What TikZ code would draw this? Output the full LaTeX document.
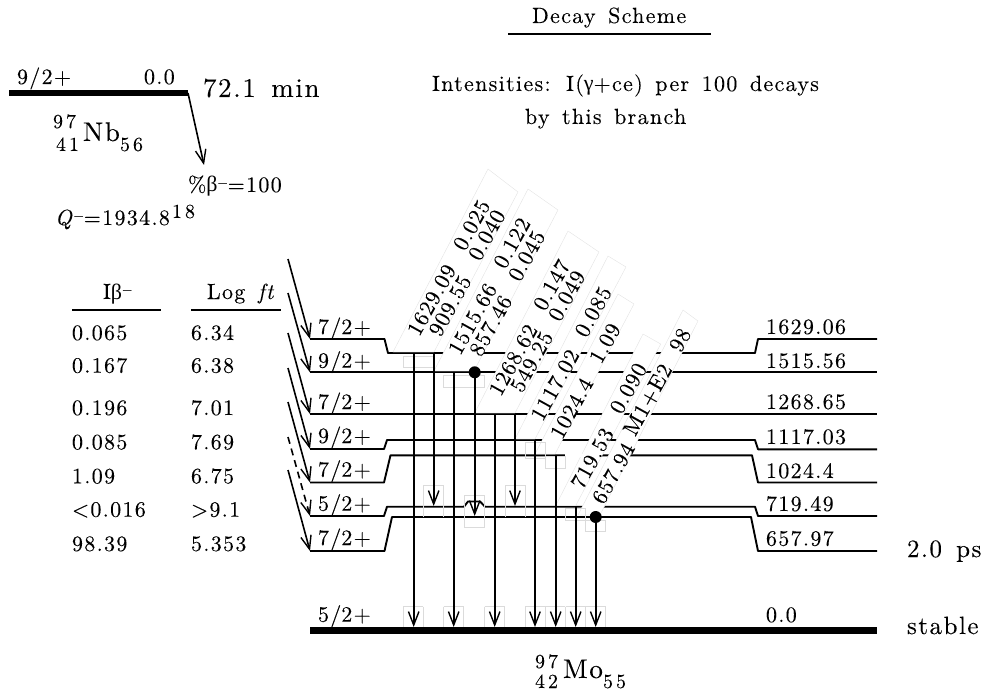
\documentclass[tikz,border=0pt]{standalone}
\usepackage{fontspec}
\setmainfont{lmroman10-regular.otf}[ItalicFont=lmroman10-italic.otf,LetterSpace=6,WordSpace=1.45,FakeBold=0.12]
\newfontfamily\grk{Liberation Serif}
\newfontfamily\tiltfont{lmroman10-regular.otf}[LetterSpace=4,FakeBold=0.12]
\newfontfamily\widefont{lmroman10-regular.otf}[LetterSpace=15,FakeBold=0.12]
\usetikzlibrary{arrows.meta}
\newcommand{\sz}[1]{\fontsize{#1}{#1}\selectfont}
\newcommand{\supminus}{\raisebox{.55ex}{\sz{13}−}}
\tikzset{
  lbl/.style={anchor=base west,inner sep=0pt,outer sep=0pt,font=\sz{22}},
  big/.style={lbl,font=\sz{27}},
  small/.style={lbl,font=\widefont\sz{20}},
  tilt/.style={anchor=center,inner sep=0pt,rotate=61,font=\tiltfont\sz{22}},
  level/.style={line width=1.9pt,line join=round},
  thick level/.style={line width=6.5pt},
  rule/.style={line width=1.8pt},
  gam/.style={line width=1.6pt,-{Straight Barb[length=13.5pt,width=10.5pt,line width=1.4pt]}},
  bet/.style={gam},
  band/.style={fill=white,draw=gray!22,line width=.4pt},
  faint/.style={draw=gray!28,line width=.6pt},
  dot/.style={circle,fill=black,inner sep=0pt,minimum size=12pt},
}
\begin{document}
\begin{tikzpicture}[x=1pt,y=-1pt]
\useasboundingbox (0,0) rectangle (991,695);
% levels
\draw[level] (310,339) -- (384.5,339) -- (388,353) -- (755,353) -- (758,339) -- (877,339);
\draw[level] (310,372.3) -- (877,372.3);
\draw[level] (310,414) -- (877,414);
\draw[level] (310,449) -- (384,449) -- (387,440) -- (755,440) -- (758,449.3) -- (877,449.3);
\draw[level] (310,482.5) -- (384,482.5) -- (390.5,455.3) -- (752,455.3) -- (758,482.5) -- (877,482.5);
\draw[level] (310,516) -- (384,516) -- (387,506.7) -- (464,506.7) -- (468,501.5) -- (480,501.5) -- (485,506.7) -- (755,506.7) -- (758,516) -- (877,516);
\draw[level] (310,551) -- (384.5,551) -- (392,517) -- (751,517) -- (758,551) -- (877,551);
\draw[thick level] (310,630.3) -- (877,630.3);
\draw[thick level] (9,93) -- (188,93);
% white label bands
\foreach \bx/\brx/\by/\tlx/\tly/\trx/\try in {
  393/434/352/488/169/518/192,
  434/474/371/528/189/558/210,
  474.7/515/413/568/231/599/252,
  515/535/439/608/256/626/267,
  535/555/454/618/294/634/304,
  555.7/575.7/505.7/643/334/660.7/344,
  578/600/515/683/310/698/321}
{
  \path[band] (\bx,\by) -- (\tlx,\tly) -- (\trx,\try) -- (\brx,\by) -- cycle;
}
\fill[white] (565,453.5) rectangle (585,457);
% faint boxes
\foreach \x in {413.3,453.7,494.7,535,555.3,575.7,595.7}
  \draw[faint] (\x-10,606.7) -- (\x-10,627) (\x+10,606.7) -- (\x+10,627) (\x-10,606.7) -- (\x+10,606.7);
\draw[faint] (403,356) rectangle (433,367.5);
\draw[faint] (443.7,375) rectangle (484.3,387);
\draw[faint] (423.5,485) -- (423.5,517) (443.7,485) -- (443.7,517) (423.5,485) -- (443.7,485);
\draw[faint] (505,485) -- (505,517) (525.2,485) -- (525.2,517) (505,485) -- (525.2,485);
\draw[faint] (464.3,495) rectangle (484.4,527);
\draw[faint] (525,442) rectangle (545,458);
\draw[faint] (545.3,456.5) rectangle (565.3,468);
\draw[faint] (565.7,508) rectangle (585.7,520);
\draw[faint] (585.7,520) rectangle (605.7,531);
% gamma transitions
\foreach \n/\x/\ya/\yb in {a/413.7/353/627,b/433.7/353/506,c/453.7/372.3/627,d/474.7/372.3/516,e/494.7/414/627,f/515/414/506,g/535/440/627,h/555.7/455.3/627,i/575.7/506.7/627,j/595.7/517/627}
{
  \coordinate (s\n) at (\x,\ya);
  \coordinate (t\n) at (\x,\yb);
  \draw[gam] (s\n) -- (t\n);
}
\node[dot] (dotd) at (sd) {};
\node[dot] (dotj) at (sj) {};
% beta feeding arrows
\foreach \n/\ya/\yb in {1/259/339,2/293/372.3,3/333/414,4/368/449,5/402/482.5,7/470/551}
{
  \coordinate (ba\n) at (288,\ya);
  \coordinate (bb\n) at (310,\yb);
  \draw[bet] (ba\n) -- (bb\n);
}
\coordinate (ba6) at (288,437);
\coordinate (bb6) at (310,516);
\draw[bet,dashed,dash pattern=on 7pt off 5pt] (ba6) -- (bb6);
% parent arrow
\coordinate (pa) at (188,93);
\coordinate (pb) at (204,165);
\draw[bet] (pa) -- (pb);
% rules
\draw[rule] (508,34) -- (711,34);
\draw[rule] (72,310) -- (161,310);
\draw[rule] (191,310) -- (281,310);
% title texts
\node[lbl] (title) at (532,23) {Decay Scheme};
\node[lbl] (inten) at (432,91) {Intensities: I({\grk γ}+ce) per 100 decays};
\node[lbl] (branch) at (525,124) {by this branch};
% parent
\node[lbl] (pspin) at (17,84) {9/2+};
\node[lbl] (pen) at (144,84) {0.0};
\node[big] (phl) at (203,97) {72.1 min};
\node[small] (pa1) at (53,128) {97};
\node[small] (pz1) at (56,151) {41};
\node[big] (pel) at (83,141) {Nb};
\node[small] (pn1) at (120,151) {56};
\node[lbl] (pbr) at (188,192) {\%{\grk β}\supminus=100};
\node[lbl] (pq) at (55,225) {\textit{Q}\supminus=1934.8};
\node[small] (pqe) at (172,218) {18};
% table
\node[lbl] (hib) at (103,299) {I{\grk β}\supminus};
\node[lbl] (hlf) at (207,299) {Log \textit{ft}};
\foreach \n/\y/\ib/\lf in {1/340/0.065/6.34,2/372.7/0.167/6.38,3/415/0.196/7.01,4/449.3/0.085/7.69,5/483.3/1.09/6.75,6/516.7/<0.016/>9.1,7/551/98.39/5.353}
{
  \node[lbl] (ib\n) at (72,\y) {\ib};
  \node[lbl] (lf\n) at (191,\y) {\lf};
}
% spins
\foreach \n/\y/\s in {1/334/7\slash 2+,2/367.7/9\slash 2+,3/409/7\slash 2+,4/443/9\slash 2+,5/476.7/7\slash 2+,6/510.7/5\slash 2+,7/545/7\slash 2+,8/621.7/5\slash 2+}
  \node[lbl] (sp\n) at (318,\y) {\s};
% energies
\foreach \n/\y/\e in {1/334/1629.06,2/368/1515.56,3/409/1268.65,4/444/1117.03,5/478/1024.4,6/511/719.49,7/545.7/657.97,8/622/0.0}
  \node[lbl] (en\n) at (766,\y) {\e};
\node[big,font=\sz{25}] (hl1) at (907,557) {2.0 ps};
\node[big,font=\sz{25}] (hl2) at (907,634) {stable};
% daughter
\node[small] (da1) at (535,668) {97};
\node[small] (dz1) at (535,688) {42};
\node[big] (del) at (563,678) {Mo};
\node[small] (dn1) at (603,688) {55};
% gamma labels
\foreach \n/\x/\y/\t in {
  a/431.7/300/1629.09, b/471.7/225/0.025,
  c/450/305.7/909.55, d/486.7/235/0.040,
  e/472.7/319/1515.66, f/512/243/0.122,
  g/490.7/325.7/857.46, h/526.7/255.7/0.045,
  i/513.3/360/1268.62, j/551.7/285/0.147,
  k/531.7/361.7/549.25, l/566.7/295.7/0.049,
  m/555/385/1117.02, n/593.3/311.7/0.085,
  o/571.7/408.3/1024.4, p/605/343.3/1.09,
  q/592.3/458.3/719.53, r/628.3/388.3/0.090,
  s/613.3/473.3/657.94, u/648.3/400/M1+E2, v/680/340/98}
  \node[tilt] (lab\n) at (\x,\y) {\t};
\end{tikzpicture}
\end{document}
